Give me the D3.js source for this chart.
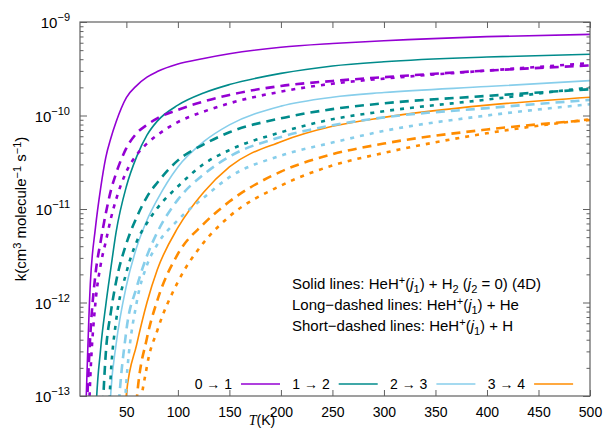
<!DOCTYPE html>
<html>
<head>
<meta charset="utf-8">
<script src="https://cdn.jsdelivr.net/npm/d3@7"></script>
<style>
  body { margin: 0; background: #fff; }
  svg { display: block; font-family: "Liberation Sans", Arial, sans-serif; }
</style>
</head>
<body>
<div id="chart"></div>
<script>
const tempsK = [10, 15, 20, 25, 30, 35, 40, 50, 60, 70, 80, 100, 125, 150, 200, 250, 300, 400, 500];

// HeH+(j1) + H2 (j2 = 0), solid lines
const kH2_01 = [3.98e-14, 1.58e-12, 6.31e-12, 1.66e-11, 3.55e-11, 5.75e-11, 8.51e-11, 1.55e-10, 2.09e-10, 2.57e-10, 2.95e-10, 3.55e-10, 4.07e-10, 4.57e-10, 5.37e-10, 5.89e-10, 6.31e-10, 6.97e-10, 7.38e-10];
const kH2_12 = [null, 1e-16, 5.01e-14, 3.16e-13, 9.33e-13, 2.34e-12, 5.62e-12, 1.74e-11, 3.63e-11, 6.17e-11, 8.71e-11, 1.29e-10, 1.74e-10, 2.14e-10, 2.82e-10, 3.39e-10, 3.76e-10, 4.22e-10, 4.52e-10];
const kH2_23 = [null, null, null, null, 6.31e-15, 1.12e-13, 3.55e-13, 1.51e-12, 3.89e-12, 7.59e-12, 1.26e-11, 2.82e-11, 5.25e-11, 7.94e-11, 1.26e-10, 1.57e-10, 1.76e-10, 2.04e-10, 2.36e-10];
const kH2_34 = [null, null, null, null, null, null, 1e-16, 1.05e-13, 3.55e-13, 1.00e-12, 2.24e-12, 6.31e-12, 1.51e-11, 2.82e-11, 5.25e-11, 7.67e-11, 9.55e-11, 1.29e-10, 1.57e-10];

// HeH+(j1) + He, long-dashed lines
const kHe_01 = [2.51e-14, 4.47e-13, 2.00e-12, 4.47e-12, 8.91e-12, 1.58e-11, 2.40e-11, 4.47e-11, 6.46e-11, 7.94e-11, 9.33e-11, 1.15e-10, 1.41e-10, 1.66e-10, 2.07e-10, 2.34e-10, 2.57e-10, 3.02e-10, 3.43e-10];
const kHe_12 = [null, null, 3.16e-16, 2.00e-14, 2.82e-13, 7.94e-13, 1.66e-12, 4.27e-12, 8.13e-12, 1.35e-11, 1.91e-11, 3.31e-11, 4.90e-11, 6.61e-11, 9.33e-11, 1.17e-10, 1.35e-10, 1.62e-10, 1.91e-10];
const kHe_23 = [null, null, null, null, null, 1e-15, 2.51e-14, 5.01e-13, 1.45e-12, 3.16e-12, 5.62e-12, 1.26e-11, 2.34e-11, 3.63e-11, 5.89e-11, 7.85e-11, 9.55e-11, 1.20e-10, 1.47e-10];
const kHe_34 = [null, null, null, null, null, null, null, 1e-15, 8.91e-14, 4.17e-13, 1.05e-12, 3.31e-12, 6.92e-12, 1.20e-11, 2.51e-11, 3.85e-11, 5.01e-11, 7.08e-11, 8.95e-11];

// HeH+(j1) + H, short-dashed lines
const kH_01 = [3.16e-15, 1.58e-13, 1.00e-12, 2.51e-12, 4.47e-12, 7.94e-12, 1.26e-11, 2.51e-11, 3.80e-11, 5.01e-11, 6.17e-11, 8.51e-11, 1.10e-10, 1.35e-10, 1.80e-10, 2.19e-10, 2.48e-10, 3.02e-10, 3.63e-10];
const kH_12 = [null, null, null, null, 1.00e-14, 1.78e-13, 6.31e-13, 2.09e-12, 4.47e-12, 7.08e-12, 1.02e-11, 1.74e-11, 3.02e-11, 4.27e-11, 6.61e-11, 9.12e-11, 1.11e-10, 1.48e-10, 2.00e-10];
const kH_23 = [null, null, null, null, null, null, 1e-15, 1.41e-13, 1.00e-12, 2.51e-12, 4.17e-12, 7.59e-12, 1.32e-11, 2.19e-11, 3.72e-11, 5.13e-11, 6.84e-11, 1.00e-10, 1.32e-10];
const kH_34 = [null, null, null, null, null, null, null, 1e-17, 2.51e-14, 2.09e-13, 5.01e-13, 1.66e-12, 4.37e-12, 8.32e-12, 1.78e-11, 2.92e-11, 3.98e-11, 6.46e-11, 9.12e-11];

const transitions = ['0 \u2192 1', '1 \u2192 2', '2 \u2192 3', '3 \u2192 4'];
const xTicks = [50, 100, 150, 200, 250, 300, 350, 400, 450, 500];
const yDecades = [1e-13, 1e-12, 1e-11, 1e-10, 1e-9];

const W = 606, H = 429;
const margin = {top: 22, right: 16, bottom: 33, left: 80};
const width = W - margin.left - margin.right;
const height = H - margin.top - margin.bottom;

const colors = ['#9400d3', '#008b8b', '#87ceeb', '#ff8c00'];
const axisColor = '#606060';

const x = d3.scaleLinear().domain([5, 500]).range([0, width]);
const y = d3.scaleLog().domain([1e-13, 1e-9]).range([height, 0]);

const svg = d3.select('#chart').append('svg')
  .attr('width', W)
  .attr('height', H);

svg.append('defs').append('clipPath')
  .attr('id', 'plot-clip')
  .append('rect')
  .attr('width', width)
  .attr('height', height);

const chart = svg.append('g')
  .attr('transform', 'translate(' + margin.left + ',' + margin.top + ')');

// minor ticks of the log axis (2..9 in every decade)
const minorY = [];
yDecades.slice(0, -1).forEach(d => {
  for (let m = 2; m <= 9; m++) minorY.push(d * m);
});

function styleAxis(g) {
  g.select('.domain').remove();
  g.selectAll('.tick line').attr('stroke', axisColor);
  g.selectAll('.tick text').attr('fill', '#000').attr('font-size', 14);
}

// bottom axis with labels
chart.append('g')
  .attr('transform', 'translate(0,' + height + ')')
  .call(d3.axisBottom(x).tickValues(xTicks).tickSizeInner(-6).tickSizeOuter(0).tickPadding(11))
  .call(styleAxis)
  .attr('font-family', null);

// top axis, mirrored ticks only
chart.append('g')
  .call(d3.axisTop(x).tickValues(xTicks).tickSizeInner(-6).tickSizeOuter(0).tickFormat(''))
  .call(styleAxis);

// left axis: decades labelled as powers of ten
const yAxisG = chart.append('g')
  .call(d3.axisLeft(y).tickValues(yDecades).tickSizeInner(-7).tickSizeOuter(0).tickPadding(10).tickFormat(''))
  .call(styleAxis)
  .attr('font-family', null);

yAxisG.selectAll('.tick text')
  .attr('font-size', 15)
  .attr('dy', '0.38em')
  .each(function(d) {
    const e = Math.round(Math.log10(d));
    const t = d3.select(this);
    t.append('tspan').text('10');
    t.append('tspan').attr('dy', -7).attr('font-size', 11).text('\u2212' + Math.abs(e));
  });

chart.append('g')
  .call(d3.axisLeft(y).tickValues(minorY).tickSizeInner(-3.5).tickSizeOuter(0).tickFormat(''))
  .call(styleAxis);

// right axis, mirrored ticks
chart.append('g')
  .attr('transform', 'translate(' + width + ',0)')
  .call(d3.axisRight(y).tickValues(yDecades).tickSizeInner(-7).tickSizeOuter(0).tickFormat(''))
  .call(styleAxis);
chart.append('g')
  .attr('transform', 'translate(' + width + ',0)')
  .call(d3.axisRight(y).tickValues(minorY).tickSizeInner(-3.5).tickSizeOuter(0).tickFormat(''))
  .call(styleAxis);

// the curves
const series = [
  {k: kH2_01, c: 0, dash: null},
  {k: kH2_12, c: 1, dash: null},
  {k: kH2_23, c: 2, dash: null},
  {k: kH2_34, c: 3, dash: null},
  {k: kHe_01, c: 0, dash: '9,6'},
  {k: kHe_12, c: 1, dash: '9,6'},
  {k: kHe_23, c: 2, dash: '9,6'},
  {k: kHe_34, c: 3, dash: '9,6'},
  {k: kH_01, c: 0, dash: '4,6'},
  {k: kH_12, c: 1, dash: '4,6'},
  {k: kH_23, c: 2, dash: '4,6'},
  {k: kH_34, c: 3, dash: '4,6'}
];

const line = d3.line()
  .defined(d => d.k != null)
  .curve(d3.curveMonotoneX)
  .x(d => x(d.t))
  .y(d => y(d.k));

const curves = chart.append('g').attr('clip-path', 'url(#plot-clip)');

curves.selectAll('path.curve')
  .data(series)
  .enter()
  .append('path')
  .attr('class', 'curve')
  .attr('fill', 'none')
  .attr('stroke', d => colors[d.c])
  .attr('stroke-width', d => d.dash ? 2.6 : 1.6)
  .attr('stroke-dasharray', d => d.dash)
  .attr('d', d => line(tempsK.map((t, i) => ({t: t, k: d.k[i]}))));

// frame
chart.append('rect')
  .attr('width', width)
  .attr('height', height)
  .attr('fill', 'none')
  .attr('stroke', axisColor)
  .attr('stroke-width', 1.2);

// key along the bottom of the plot
const key = chart.append('g').attr('transform', 'translate(0,' + (height - 12) + ')');
transitions.forEach((lab, i) => {
  const xe = 152 + i * 97.7;
  key.append('text')
    .attr('x', xe)
    .attr('y', 5)
    .attr('text-anchor', 'end')
    .attr('font-size', 14)
    .text(lab);
  key.append('line')
    .attr('x1', xe + 9)
    .attr('x2', xe + 48)
    .attr('stroke', colors[i])
    .attr('stroke-width', 1.6);
});

// explanatory note
function rich(sel, parts, big) {
  let shift = 0;
  parts.forEach(p => {
    const target = p.s === 'sup' ? -5 : p.s === 'sub' ? 4 : 0;
    const ts = sel.append('tspan').attr('dy', target - shift).text(p.t);
    if (p.s) ts.attr('font-size', big ? 11 : 10);
    if (p.i) ts.attr('font-style', 'italic');
    shift = target;
  });
}

const noteLines = [
  [{t: 'Solid lines: HeH'}, {t: '+', s: 'sup'}, {t: '('}, {t: 'j', i: true}, {t: '1', s: 'sub'},
   {t: ') + H'}, {t: '2', s: 'sub'}, {t: ' ('}, {t: 'j', i: true}, {t: '2', s: 'sub'}, {t: ' = 0) (4D)'}],
  [{t: 'Long\u2212dashed lines: HeH'}, {t: '+', s: 'sup'}, {t: '('}, {t: 'j', i: true}, {t: '1', s: 'sub'}, {t: ') + He'}],
  [{t: 'Short\u2212dashed lines: HeH'}, {t: '+', s: 'sup'}, {t: '('}, {t: 'j', i: true}, {t: '1', s: 'sub'}, {t: ') + H'}]
];
noteLines.forEach((parts, i) => {
  const t = chart.append('text')
    .attr('x', 212)
    .attr('y', 267 + i * 21)
    .attr('font-size', 15);
  rich(t, parts, true);
});

// axis titles
const ylab = svg.append('text')
  .attr('transform', 'translate(26,' + (margin.top + height / 2) + ') rotate(-90)')
  .attr('text-anchor', 'middle')
  .attr('font-size', 15);
rich(ylab, [{t: 'k(cm'}, {t: '3', s: 'sup'}, {t: ' molecule'}, {t: '\u22121', s: 'sup'}, {t: ' s'}, {t: '\u22121', s: 'sup'}, {t: ')'}], true);

const xlab = svg.append('text')
  .attr('x', 262)
  .attr('y', 425)
  .attr('text-anchor', 'middle')
  .attr('font-size', 14);
xlab.append('tspan').attr('font-style', 'italic').attr('font-family', '"Liberation Serif", serif').text('T');
xlab.append('tspan').text('(K)');
</script>
</body>
</html>
